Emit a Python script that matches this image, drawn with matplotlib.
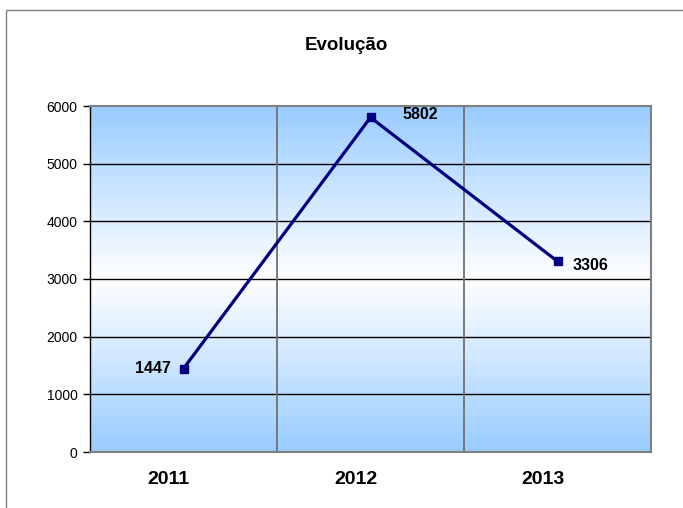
import numpy as np
import matplotlib.pyplot as plt
import matplotlib.transforms as mtransforms
from matplotlib.colors import LinearSegmentedColormap
from matplotlib.patches import Rectangle

plt.rcParams['font.family'] = ['Liberation Sans', 'DejaVu Sans']

# Dados
anos = ["2011", "2012", "2013"]
valores = [1447, 5802, 3306]
yticks = [0, 1000, 2000, 3000, 4000, 5000, 6000]

fig = plt.figure(figsize=(6.83, 5.08), dpi=100)
ax = fig.add_axes([90 / 683, 1 - 452 / 508, 561 / 683, 346 / 508])

# Moldura externa (lado direito fora da imagem)
fig.patches.append(Rectangle((6 / 683, -0.1), 0.2 + 677 / 683, 1.1 - 10 / 508,
                             transform=fig.transFigure, fill=False,
                             edgecolor='#808080', linewidth=1.0))

# Fundo em degradê (azul - branco - azul)
cmap = LinearSegmentedColormap.from_list("fundo", ["#ffffff", "#99ccff"])
grad = np.abs(np.linspace(-1, 1, 256)).reshape(-1, 1)
ax.imshow(grad, cmap=cmap, aspect='auto', extent=[-0.5, 2.5, 0, 6000],
          origin='lower', zorder=0, vmin=0, vmax=1)

ax.set_xlim(-0.5, 2.5)
ax.set_ylim(0, 6000)

# Grades
for y in yticks[1:-1]:
    ax.axhline(y, color='black', linewidth=1.0, zorder=1)
for x in [0.5, 1.5]:
    ax.axvline(x, color='#707070', linewidth=1.3, zorder=1)

ax.plot(range(len(anos)), valores, color='#000080', linewidth=2.3,
        marker='s', markersize=6, zorder=3)

# Rótulos dos dados
ax.annotate(str(valores[0]), (0, valores[0]), xytext=(-13, 0),
            textcoords='offset pixels', ha='right', va='center',
            fontsize=11.5, fontweight='bold')
ax.annotate(str(valores[1]), (1, valores[1]), xytext=(32, 3),
            textcoords='offset pixels', ha='left', va='center',
            fontsize=11.5, fontweight='bold')
ax.annotate(str(valores[2]), (2, valores[2]), xytext=(15, -4),
            textcoords='offset pixels', ha='left', va='center',
            fontsize=11.5, fontweight='bold')

ax.set_xticks(range(len(anos)))
ax.set_xticklabels(anos, fontsize=14, fontweight='bold')
ax.tick_params(axis='x', length=0, pad=14)
desloc = mtransforms.ScaledTranslation(-15 / 100, 0, fig.dpi_scale_trans)
for lbl in ax.get_xticklabels():
    lbl.set_transform(lbl.get_transform() + desloc)
ax.set_yticks(yticks)
ax.set_yticklabels([str(v) for v in yticks], fontsize=10)
ax.tick_params(axis='y', length=5, width=1, color='black', pad=4)

for s in ['top', 'right', 'bottom']:
    ax.spines[s].set_color('#808080')
    ax.spines[s].set_linewidth(1.5)
ax.spines['left'].set_color('black')
ax.spines['left'].set_linewidth(1.0)

fig.text(346 / 683, 1 - 45 / 508, "Evolução", ha='center', va='center',
         fontsize=13.5, fontweight='bold')

plt.savefig("out.png", dpi=100)
plt.close()
